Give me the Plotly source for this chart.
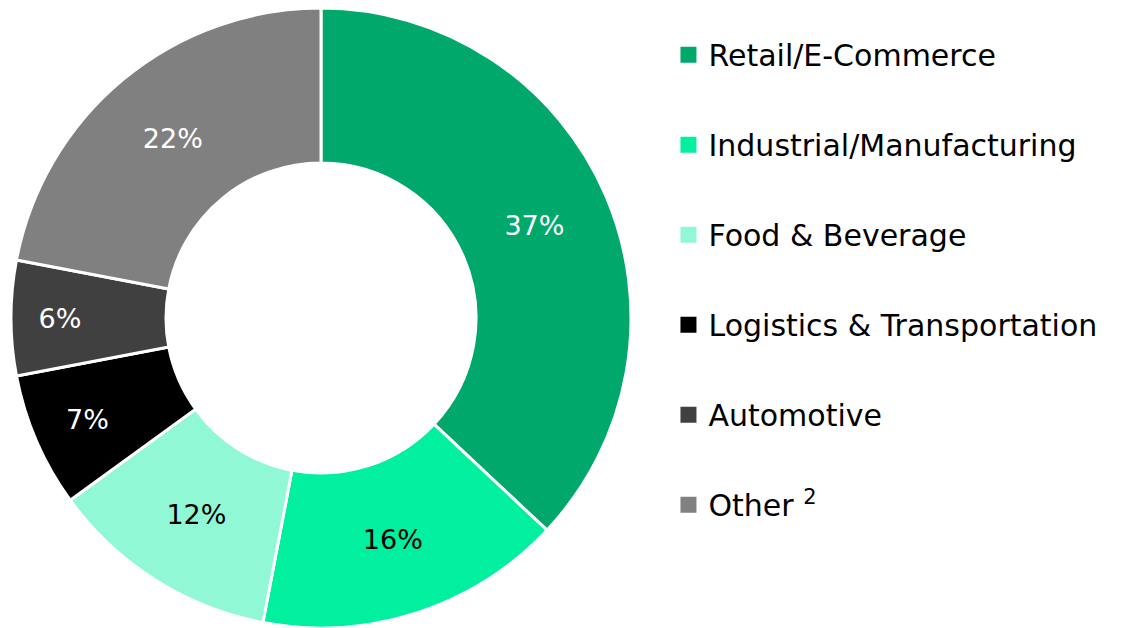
import plotly.graph_objects as go

categories = ["Retail/E-Commerce", "Industrial/Manufacturing", "Food & Beverage",
              "Logistics & Transportation", "Automotive", "Other"]
legend_labels = ["Retail/E-Commerce", "Industrial/Manufacturing", "Food & Beverage",
                 "Logistics & Transportation", "Automotive", "Other <sup>2</sup>"]
values = [37, 16, 12, 7, 6, 22]
colors = ["#00A86B", "#00F0A0", "#90F8D4", "#000000", "#404040", "#808080"]
text_colors = ["white", "black", "black", "white", "white", "white"]

FONT = "DejaVu Sans"
W, H = 1129, 628

fig = go.Figure()
fig.add_trace(go.Pie(
    labels=categories, values=values, hole=0.5, sort=False, direction="clockwise",
    rotation=0,
    marker=dict(colors=colors, line=dict(color="white", width=3)),
    texttemplate="%{value}%", textposition="inside", insidetextorientation="horizontal",
    textfont=dict(family=FONT, size=27, color=text_colors),
    showlegend=False, hoverinfo="label+percent",
    domain=dict(x=[3 / W, 623 / W], y=[1 - 620 / H, 1]),
))

for i, (lab, col) in enumerate(zip(legend_labels, colors)):
    fig.add_trace(go.Scatter(
        x=[None], y=[None], mode="markers", name=lab, legendgroup=f"g{i}",
        marker=dict(symbol="square", size=16, color=col),
    ))

fig.update_layout(
    width=W, height=H, margin=dict(l=0, r=0, t=0, b=0),
    paper_bgcolor="white", plot_bgcolor="white",
    xaxis=dict(visible=False), yaxis=dict(visible=False),
    font=dict(family=FONT, color="black"),
    legend=dict(x=0.585, y=0.967, xanchor="left", yanchor="top",
                font=dict(family=FONT, size=30, color="black"),
                tracegroupgap=48, itemwidth=30, bgcolor="rgba(0,0,0,0)"),
)
fig.write_html("out.html")
